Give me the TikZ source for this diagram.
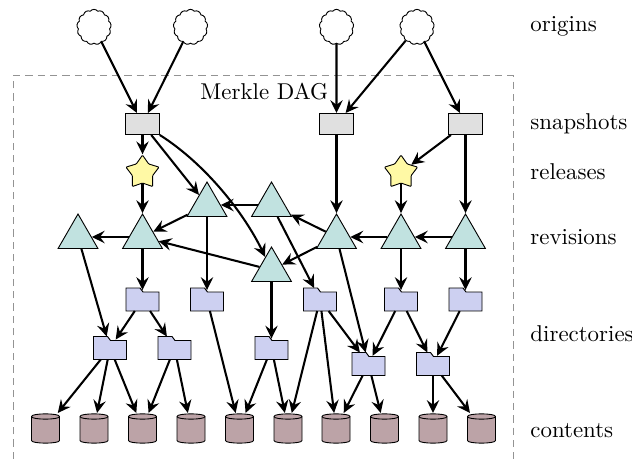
\documentclass[tikz,border=0pt]{standalone}
\usetikzlibrary{shapes.geometric,shapes.symbols,arrows.meta}
\definecolor{snapc}{HTML}{E0E0E0}
\definecolor{relc}{HTML}{FFF9A5}
\definecolor{revc}{HTML}{C1E2E0}
\definecolor{dirc}{HTML}{CDD0F1}
\definecolor{cntc}{HTML}{BCA3A7}
\tikzset{
  orig/.style={cloud,draw,fill=white,cloud puffs=13,cloud puff arc=105,aspect=1,minimum width=15pt,minimum height=15.4pt,inner sep=0pt},
  snap/.style={rectangle,draw,fill=snapc,minimum width=14.9pt,minimum height=9.2pt,inner sep=0pt},
  rel/.style={star,star points=5,star point ratio=1.65,draw,fill=relc,minimum size=15.2pt,inner sep=0pt,rounded corners=0.4pt},
  rev/.style={regular polygon,regular polygon sides=3,draw,fill=revc,minimum size=20.1pt,inner sep=0pt},
  dirbox/.style={rectangle,minimum width=14.42pt,minimum height=10.05pt,inner sep=0pt,outer sep=0pt},
  dirline/.style={draw,fill=dirc},
  cntbox/.style={rectangle,minimum width=12.24pt,minimum height=13.33pt,inner sep=0pt,outer sep=0pt},
  cntline/.style={draw,fill=cntc},
  lab/.style={anchor=base west,inner sep=0pt},
  frame/.style={draw=gray!85,dash pattern=on 3.2pt off 2.2pt,line width=0.4pt},
  arr/.style={-{Stealth[length=5.6pt,width=5.4pt,inset=2pt]},line width=0.9pt},
  arrs/.style={arr,shorten >=-1.6pt},
  arrt/.style={arr,shorten >=-0.9pt},
}
\newcommand\folderat[3]{%
  \node[dirbox] (#1) at (#2,#3) {};
  \path[dirline] (#1.south west) -- (#1.north west) -- ++(14,0) -- ++(3,4) -- ++(16,0) -- (#1.south east) -- cycle;}
\newcommand\cntat[2]{%
  \node[cntbox] (#1) at (#2,428.25) {};
  \path[cntline] ({#2-14},416.5) .. controls ({#2-14},413) and ({#2+14},413) .. ({#2+14},416.5) -- ({#2+14},440.5) .. controls ({#2+14},444) and ({#2-14},444) .. ({#2-14},440.5) -- cycle;
  \draw ({#2-14},416.5) .. controls ({#2-14},420) and ({#2+14},420) .. ({#2+14},416.5);}
\begin{document}
\begin{tikzpicture}[x=0.437pt,y=-0.437pt]
\useasboundingbox (0,0) rectangle (632,459);
\draw[frame] (13.5,459) -- (13.5,75.5) -- (513.5,75.5) -- (513.5,459);
\node[lab] (tdag) at (200,99.5) {Merkle DAG};
\node[lab] (torig) at (530,31.5) {origins};
\node[lab] (tsnap) at (530,129.5) {snapshots};
\node[lab] (trel) at (530,179.5) {releases};
\node[lab] (trev) at (530,245) {revisions};
\node[lab] (tdir) at (530,341.5) {directories};
\node[lab] (tcnt) at (530,437.5) {contents};
% origins
\node[orig] (o1) at (94,27) {};
\node[orig] (o2) at (190.5,27) {};
\node[orig] (o3) at (336.5,27) {};
\node[orig] (o4) at (417,27) {};
% snapshots
\node[snap] (s1) at (142.5,124) {};
\node[snap] (s2) at (336.5,124) {};
\node[snap] (s3) at (465.5,124) {};
% releases
\node[rel] (r1) at (142.5,172.5) {};
\node[rel] (r2) at (401,172.5) {};
% revisions
\node[rev] (t1) at (78,237) {};
\node[rev] (t2) at (142.5,237) {};
\node[rev] (t3) at (207,205) {};
\node[rev] (t4) at (271.5,205) {};
\node[rev] (t5) at (271.5,270) {};
\node[rev] (t6) at (336.5,237) {};
\node[rev] (t7) at (401,237) {};
\node[rev] (t8) at (465.5,237) {};
% directories
\folderat{d1}{142.5}{299.5}
\folderat{d2}{207}{299.5}
\folderat{d3}{320}{299.5}
\folderat{d4}{401}{299.5}
\folderat{d5}{465.5}{299.5}
\folderat{e1}{110}{348}
\folderat{e2}{174.5}{348}
\folderat{e3}{271.5}{348}
\folderat{e4}{368.5}{364}
\folderat{e5}{433}{364}
% contents
\cntat{c1}{45.5}
\cntat{c2}{94}
\cntat{c3}{142.5}
\cntat{c4}{191}
\cntat{c5}{239.5}
\cntat{c6}{288}
\cntat{c7}{336}
\cntat{c8}{384.5}
\cntat{c9}{433}
\cntat{c10}{481.5}
% edges
\draw[arr] (o1) -- (s1);
\draw[arr] (o2) -- (s1);
\draw[arr] (o3) -- (s2);
\draw[arr] (o4) -- (s2);
\draw[arr] (o4) -- (s3);
\draw[arr] (s1) -- (r1);
\draw[arr] (r1) -- (t2);
\draw[arr] (s1) -- (t3);
\draw[arr] (s1) .. controls (207,165) and (245,215) .. (t5);
\draw[arr] (s2) -- (t6);
\draw[arr] (s3) -- (r2);
\draw[arr] (r2) -- (t7);
\draw[arr] (s3) -- (t8);
\draw[arr] (t3) -- (t2);
\draw[arr] (t4) -- (t3);
\draw[arr] (t6) -- (t4);
\draw[arr] (t2) -- (t1);
\draw[arr] (t5) -- (t2);
\draw[arr] (t6) -- (t5);
\draw[arr] (t7) -- (t6);
\draw[arr] (t8) -- (t7);
\draw[arr] (t1) -- (e1);
\draw[arrt] (t2) -- (d1);
\draw[arrt] (t3) -- (d2);
\draw[arr] (t4) -- (d3);
\draw[arrt] (t5) -- (e3);
\draw[arr] (t6) -- (e4);
\draw[arrt] (t7) -- (d4);
\draw[arrt] (t8) -- (d5);
\draw[arrs] (d1) -- (e1);
\draw[arr] (d1) -- (e2);
\draw[arr] (d2) -- (c5);
\draw[arr] (d3) -- (c6);
\draw[arr] (d3) -- (c7);
\draw[arr] (d3) -- (e4);
\draw[arrs] (d4) -- (e4);
\draw[arr] (d4) -- (e5);
\draw[arrs] (d5) -- (e5);
\draw[arr] (e1) -- (c1);
\draw[arr] (e1) -- (c2);
\draw[arr] (e1) -- (c3);
\draw[arr] (e2) -- (c3);
\draw[arr] (e2) -- (c4);
\draw[arr] (e3) -- (c5);
\draw[arr] (e3) -- (c6);
\draw[arr] (e4) -- (c7);
\draw[arr] (e4) -- (c8);
\draw[arr] (e5) -- (c9);
\draw[arr] (e5) -- (c10);
\end{tikzpicture}
\end{document}
